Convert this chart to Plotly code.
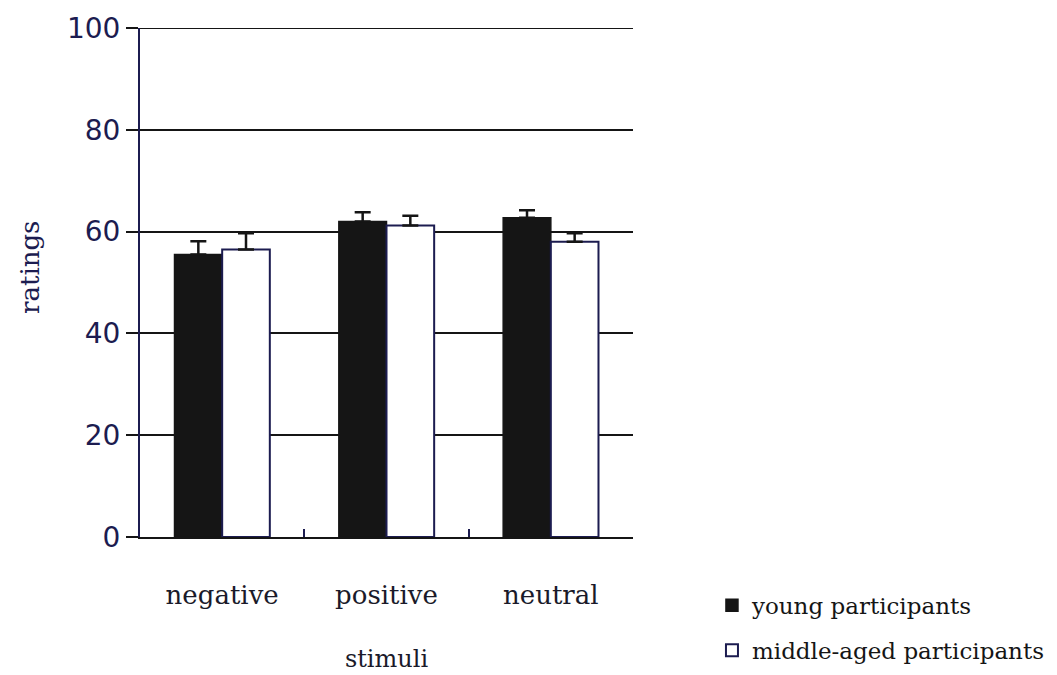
import plotly.graph_objects as go

categories = ["negative", "positive", "neutral"]
young = [55.5, 62.0, 62.7]
young_err = [2.6, 1.8, 1.5]
middle = [56.5, 61.2, 58.0]
middle_err = [3.2, 1.9, 1.7]
y_ticks = [0, 20, 40, 60, 80, 100]

navy = "#1c1c50"
ink = "#151515"
serif = "DejaVu Serif"

fig = go.Figure()
fig.add_trace(go.Bar(
    x=categories, y=young, name="young participants", legendgroup="a",
    marker=dict(color=ink, line=dict(color=ink, width=1.5)),
    error_y=dict(type="data", array=young_err, arrayminus=[0]*3, symmetric=False,
                 color=ink, thickness=2.5, width=8),
))
fig.add_trace(go.Bar(
    x=categories, y=middle, name="middle-aged participants", legendgroup="b",
    marker=dict(color="white", line=dict(color=navy, width=2)),
    error_y=dict(type="data", array=middle_err, arrayminus=[0]*3, symmetric=False,
                 color=ink, thickness=2.5, width=8),
))

fig.add_shape(type="line", xref="paper", yref="y", x0=0, x1=1, y0=100, y1=100,
              line=dict(color=ink, width=2), layer="below")

fig.add_annotation(text="ratings", xref="paper", yref="paper",
                   x=-110 / 493, y=(537 - 268) / 509, textangle=-90,
                   showarrow=False, xanchor="center", yanchor="middle",
                   font=dict(family=serif, size=26, color=navy))

fig.update_layout(
    width=1057, height=675,
    margin=dict(l=132, r=432, t=20, b=146, autoexpand=False),
    paper_bgcolor="white", plot_bgcolor="white",
    barmode="group", bargap=0.42, bargroupgap=0,
    showlegend=True,
    legend=dict(xref="container", yref="container", x=0.666, y=0.147,
                xanchor="left", yanchor="top",
                font=dict(family=serif, size=23, color=ink),
                bgcolor="rgba(0,0,0,0)", tracegroupgap=12, itemwidth=30),
    xaxis=dict(
        automargin=False,
        showline=True, linecolor=ink, linewidth=2,
        ticks="inside", tickson="boundaries", ticklen=8, tickwidth=2, tickcolor=navy,
        tickfont=dict(family=serif, size=26, color="#1a1a2a"),
        ticklabelstandoff=34,
        title=dict(text="stimuli", font=dict(family=serif, size=24, color="#1a1a2a"), standoff=41),
        showgrid=False,
    ),
    yaxis=dict(
        automargin=False,
        range=[0, 100], tickvals=y_ticks,
        showline=True, linecolor=navy, linewidth=2,
        ticks="outside", ticklen=12, tickwidth=2, tickcolor=ink,
        tickfont=dict(family="DejaVu Sans", size=28, color=navy),
        showgrid=True, gridcolor=ink, gridwidth=2,
        zeroline=False,
    ),
)

fig.write_html("out.html")
